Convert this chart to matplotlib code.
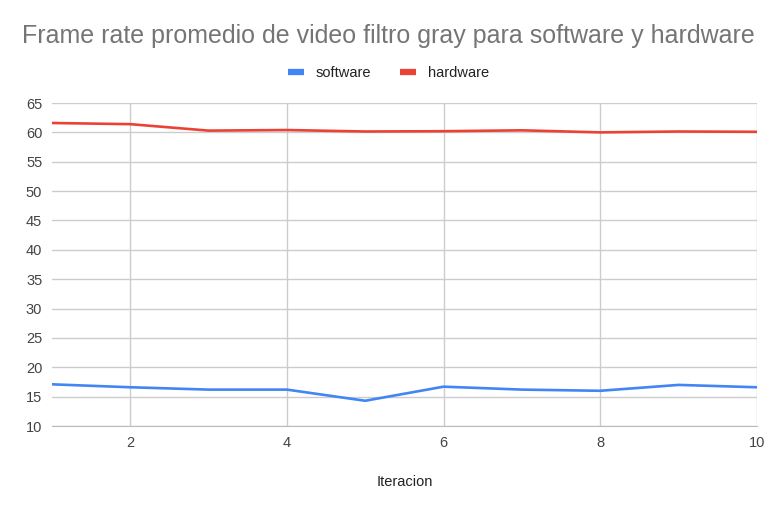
import numpy as np
import matplotlib
matplotlib.use("Agg")
import matplotlib.pyplot as plt

plt.rcParams["font.family"] = ["Liberation Sans", "DejaVu Sans"]

# data
iteracion = [1, 2, 3, 4, 5, 6, 7, 8, 9, 10]
software = [17.1, 16.6, 16.2, 16.2, 14.3, 16.7, 16.2, 16.0, 17.0, 16.6]
hardware = [61.6, 61.4, 60.3, 60.4, 60.15, 60.2, 60.35, 60.0, 60.15, 60.1]
xticks = [2, 4, 6, 8, 10]
yticks = list(range(10, 70, 5))

fig = plt.figure(figsize=(7.77, 5.05), dpi=100)
ax = fig.add_axes([0.0669, 0.1564, 0.9071, 0.6396])

ax.plot(iteracion, software, color="#4285f4", lw=1.9, label="software", solid_capstyle="round")
ax.plot(iteracion, hardware, color="#ea4335", lw=1.9, label="hardware", solid_capstyle="round")

ax.set_xlim(1, 10)
ax.set_ylim(10, 65)
ax.set_xticks(xticks)
ax.set_yticks(yticks)
ax.grid(True, color="#cccccc", lw=1)
ax.set_axisbelow(True)
for s in ["top", "right", "left"]:
    ax.spines[s].set_visible(False)
ax.spines["bottom"].set_color("#bbbbbb")
ax.tick_params(length=0, labelsize=10.5, labelcolor="#444444", pad=7)

ax.set_xlabel("Iteracion", fontsize=10.5, color="#222222", labelpad=18)
fig.text(0.5, 0.929, "Frame rate promedio de video filtro gray para software y hardware",
         ha="center", va="center", fontsize=18.0, color="#757575")
fig.legend(loc="center", bbox_to_anchor=(0.5, 0.856), ncol=2, frameon=False,
           fontsize=10.5, handlelength=1.1, handletextpad=0.8, columnspacing=2.0,
           labelcolor="#222222")
leg = fig.legends[0]
for h in leg.legend_handles:
    h.set_linewidth(4.5)
    h.set_solid_capstyle("butt")

fig.savefig("out.png", dpi=100)
